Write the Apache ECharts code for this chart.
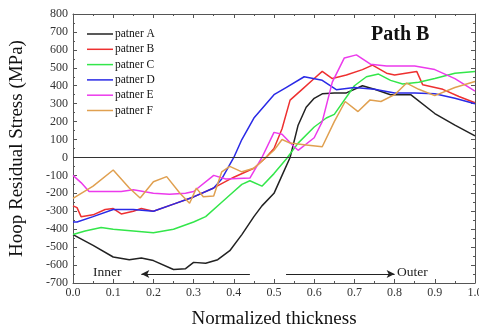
<!DOCTYPE html>
<html><head><meta charset="utf-8">
<script src="https://cdn.jsdelivr.net/npm/echarts@6/dist/echarts.min.js"></script>
<style>html,body{margin:0;padding:0;background:#fff}#c{width:479px;height:327px}</style>
</head><body><div id="c"></div>
<script>
const names = ['patner A','patner B','patner C','patner D','patner E','patner F'];
const colors = ['#222222','#ee3030','#33e64a','#2a2ae6','#ec3aec','#e0a050'];
const aX=[0,0.05,0.1,0.14,0.17,0.2,0.25,0.28,0.3,0.33,0.36,0.39,0.42,0.45,0.47,0.5,0.52,0.54,0.56,0.58,0.6,0.62,0.65,0.68,0.72,0.75,0.79,0.84,0.9,0.95,1.0];
const aY=[-430,-490,-555,-570,-560,-575,-625,-620,-585,-590,-570,-520,-430,-330,-270,-200,-100,0,180,280,330,355,360,360,400,380,350,350,245,180,120];
const bX=[0,0.01,0.02,0.05,0.08,0.1,0.12,0.15,0.17,0.2,0.25,0.3,0.35,0.4,0.45,0.48,0.5,0.52,0.54,0.57,0.6,0.62,0.645,0.68,0.72,0.745,0.78,0.8,0.855,0.87,0.92,0.96,1.0];
const bY=[-270,-280,-330,-320,-290,-285,-315,-300,-285,-300,-260,-220,-170,-110,-60,0,50,160,320,380,440,480,440,460,490,515,470,460,480,405,380,340,305];
const cX=[0,0.03,0.07,0.1,0.15,0.2,0.25,0.3,0.33,0.37,0.4,0.42,0.44,0.47,0.5,0.53,0.56,0.6,0.63,0.65,0.7,0.73,0.76,0.79,0.82,0.86,0.9,0.95,1.0];
const cY=[-430,-410,-390,-400,-410,-420,-400,-360,-330,-250,-190,-150,-130,-160,-90,-10,80,170,220,240,400,450,465,430,410,420,440,470,480];
const dX=[0,0.01,0.05,0.1,0.15,0.2,0.25,0.3,0.35,0.37,0.4,0.42,0.45,0.5,0.53,0.575,0.62,0.655,0.7,0.75,0.8,0.85,0.9,0.95,1.0];
const dY=[-360,-360,-330,-290,-290,-300,-260,-220,-170,-120,0,100,220,350,390,450,430,378,390,380,360,360,355,330,300];
const eX=[0,0.02,0.04,0.08,0.12,0.15,0.2,0.24,0.28,0.3,0.35,0.38,0.44,0.47,0.5,0.52,0.55,0.56,0.6,0.62,0.645,0.675,0.705,0.74,0.78,0.85,0.9,0.95,1.0];
const eY=[-100,-140,-190,-190,-190,-180,-200,-205,-200,-190,-100,-120,-115,0,140,130,60,40,110,200,420,555,572,520,510,510,490,440,370];
const fX=[0,0.05,0.1,0.14,0.167,0.2,0.233,0.266,0.29,0.307,0.324,0.35,0.37,0.39,0.42,0.45,0.48,0.5,0.52,0.54,0.58,0.62,0.65,0.677,0.709,0.739,0.766,0.8,0.83,0.86,0.9,0.95,1.0];
const fY=[-228,-160,-70,-170,-226,-135,-107,-200,-255,-171,-219,-215,-80,-50,-80,-60,0,40,100,80,70,60,200,312,256,321,312,350,415,380,345,390,424];
const allX=[aX,bX,cX,dX,eX,fX], allY=[aY,bY,cY,dY,eY,fY];
const innerArrow=[[0.44,-650],[0.17,-650]];
const outerArrow=[[0.53,-650],[0.8,-650]];

const serif='Liberation Serif';
const chart=echarts.init(document.getElementById('c'));
const series=names.map((n,i)=>({
  name:n,type:'line',symbol:'none',smooth:false,
  data:allX[i].map((x,j)=>[x,allY[i][j]]),
  lineStyle:{width:1.5,color:colors[i]},itemStyle:{color:colors[i]},z:3
}));
series.push({
  type:'line',data:[],silent:true,
  markLine:{silent:true,symbol:['none','none'],label:{show:false},
    lineStyle:{color:'#333',width:1,type:'solid'},
    data:[[{coord:[0,0]},{coord:[1,0]}]]}
});
series.push({
  type:'line',data:[],silent:true,
  markLine:{silent:true,symbol:['none','arrow'],symbolSize:[6,8],label:{show:false},
    lineStyle:{color:'#222',width:1,type:'solid'},
    data:[
      [{coord:innerArrow[0]},{coord:innerArrow[1]}],
      [{coord:outerArrow[0]},{coord:outerArrow[1]}]
    ]}
});
const axLabel={fontFamily:serif,fontSize:12,color:'#333'};
chart.setOption({
  animation:false,
  grid:{left:73,right:4,top:14,bottom:44,containLabel:false,outerBoundsMode:'none'},
  legend:{
    show:true,orient:'vertical',left:82,top:23,itemGap:3.3,itemWidth:26,itemHeight:11,
    icon:'path://M0,5 L26,5 L26,6.5 L0,6.5 Z',
    textStyle:{fontFamily:serif,fontSize:11.5,color:'#111',padding:[0,0,0,-3]},
    data:names
  },
  graphic:[
    {type:'text',left:371,top:25,style:{text:'Path B',font:'bold 20px "Liberation Serif"',fill:'#111'}},
    {type:'text',left:93,top:265,style:{text:'Inner',font:'13.5px "Liberation Serif"',fill:'#222'}},
    {type:'text',left:397,top:265,style:{text:'Outer',font:'13.5px "Liberation Serif"',fill:'#222'}}
  ],
  xAxis:[{
    type:'value',min:0,max:1,interval:0.1,position:'bottom',
    name:'Normalized thickness',nameLocation:'middle',nameGap:27,
    nameTextStyle:{fontFamily:serif,fontSize:19,color:'#111'},
    axisLine:{show:true,onZero:false,lineStyle:{color:'#555',width:1}},
    axisTick:{show:true,inside:true,length:4,lineStyle:{color:'#555'}},
    minorTick:{show:true,splitNumber:2,length:2,lineStyle:{color:'#555'}},
    splitLine:{show:false},
    axisLabel:Object.assign({formatter:v=>v.toFixed(1),margin:4},axLabel)
  },{
    type:'value',min:0,max:1,interval:0.1,position:'top',
    axisLine:{show:true,onZero:false,lineStyle:{color:'#555',width:1}},
    axisTick:{show:true,inside:true,length:4,lineStyle:{color:'#555'}},
    minorTick:{show:true,splitNumber:2,length:2,lineStyle:{color:'#555'}},
    splitLine:{show:false},axisLabel:{show:false}
  }],
  yAxis:[{
    type:'value',min:-700,max:800,interval:100,position:'left',
    name:'Hoop Residual Stress (MPa)',nameLocation:'middle',nameGap:46,
    nameTextStyle:{fontFamily:serif,fontSize:19,color:'#111'},
    axisLine:{show:true,onZero:false,lineStyle:{color:'#555',width:1}},
    axisTick:{show:true,inside:true,length:4,lineStyle:{color:'#555'}},
    minorTick:{show:true,splitNumber:2,length:2,lineStyle:{color:'#555'}},
    splitLine:{show:false},
    axisLabel:Object.assign({margin:5},axLabel)
  },{
    type:'value',min:-700,max:800,interval:100,position:'right',
    axisLine:{show:true,onZero:false,lineStyle:{color:'#555',width:1}},
    axisTick:{show:true,inside:true,length:4,lineStyle:{color:'#555'}},
    minorTick:{show:true,splitNumber:2,length:2,lineStyle:{color:'#555'}},
    splitLine:{show:false},axisLabel:{show:false}
  }],
  series:series
});
</script></body></html>
